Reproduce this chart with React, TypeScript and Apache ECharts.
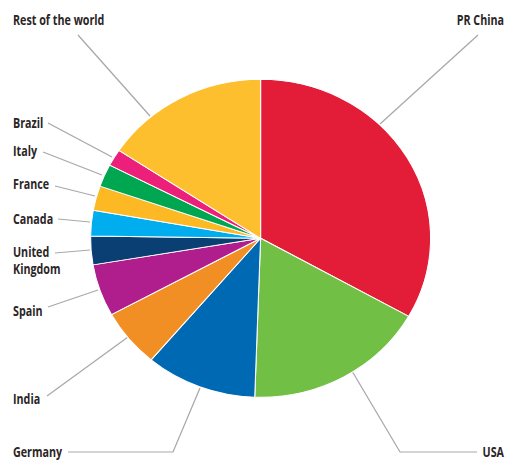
import React, { useEffect, useRef } from "react";
import * as echarts from "echarts";

// Data (shares in %)
const countries = [
  "PR China",
  "USA",
  "Germany",
  "India",
  "Spain",
  "United Kingdom",
  "Canada",
  "France",
  "Italy",
  "Brazil",
  "Rest of the world",
];
const shares = [33.2, 17.4, 10.6, 5.9, 5.3, 2.9, 2.6, 2.5, 2.3, 1.7, 15.7];
const colors = [
  "#E31D38",
  "#72BF45",
  "#0069B4",
  "#F28F24",
  "#B01D8D",
  "#0A3F73",
  "#00AEEF",
  "#FDB924",
  "#00A650",
  "#EC1F7A",
  "#FDBF2E",
];

// Layout (page pixel coordinates): label anchor, alignment and leader line points
const labelAnchors: [number, number][] = [
  [504, 19],
  [504, 451],
  [13, 451],
  [13, 398],
  [13, 310],
  [13, 260],
  [13, 218],
  [13, 183],
  [13, 150],
  [13, 122],
  [13, 19],
];
const labelAligns = ["right", "right", "left", "left", "left", "left", "left", "left", "left", "left", "left"];
const leaderLines: [number, number][][] = [
  [[478, 35], [380, 124]],
  [[477, 452], [400, 452], [352, 371]],
  [[68, 452], [173, 452], [200, 388]],
  [[47, 396], [128, 337]],
  [[48, 307], [98, 290]],
  [[55, 253], [90, 250]],
  [[58, 219], [90, 222]],
  [[55, 186], [95, 196]],
  [[43, 152], [102, 175]],
  [[48, 123], [112, 157]],
  [[78, 35], [150, 116]],
];

const K = 170 / 159; // horizontal stretch of the original graphic
const TEXT_SCALE = 0.67; // condensed lettering
const W = 507;
const H = 461;

export default function App() {
  const ref = useRef<HTMLDivElement>(null);
  useEffect(() => {
    if (!ref.current) return;
    const chart = echarts.init(ref.current, undefined, { renderer: "svg" });
    const cx = (x: number) => x / K;
    const labelTexts = countries.map((name, i) => ({
      type: "text",
      x: cx(labelAnchors[i][0]),
      y: labelAnchors[i][1],
      scaleX: TEXT_SCALE,
      silent: true,
      style: {
        text: name === "United Kingdom" ? "United\nKingdom" : name,
        fill: "#2b2526",
        fontFamily: "'Open Sans', sans-serif",
        fontSize: 15,
        fontWeight: "bold",
        lineHeight: 17,
        textAlign: labelAligns[i],
        textVerticalAlign: "middle",
      },
    }));
    const lines = leaderLines.map((pts) => ({
      type: "polyline",
      silent: true,
      shape: { points: pts.map(([x, y]) => [cx(x), y]) },
      style: { stroke: "#a9a9a9", lineWidth: 1.2, fill: null },
    }));
    chart.setOption({
      animation: false,
      backgroundColor: "#ffffff",
      graphic: [...lines, ...labelTexts],
      series: [
        {
          type: "pie",
          center: [cx(260.6), 238.3],
          radius: 159,
          startAngle: 90,
          clockwise: true,
          data: countries.map((name, i) => ({
            name,
            value: shares[i],
            itemStyle: { color: colors[i] },
          })),
          itemStyle: { borderColor: "#ffffff", borderWidth: 1 },
          label: { show: false },
          labelLine: { show: false },
          emphasis: { disabled: true },
        },
      ],
    });
    return () => chart.dispose();
  }, []);
  return (
    <div
      style={{
        position: "fixed",
        left: 0,
        top: 0,
        width: W,
        height: H,
        overflow: "hidden",
        background: "#fff",
      }}
    >
      <div
        ref={ref}
        style={{
          width: W / K,
          height: H,
          transform: `scaleX(${K})`,
          transformOrigin: "0 0",
        }}
      />
    </div>
  );
}
